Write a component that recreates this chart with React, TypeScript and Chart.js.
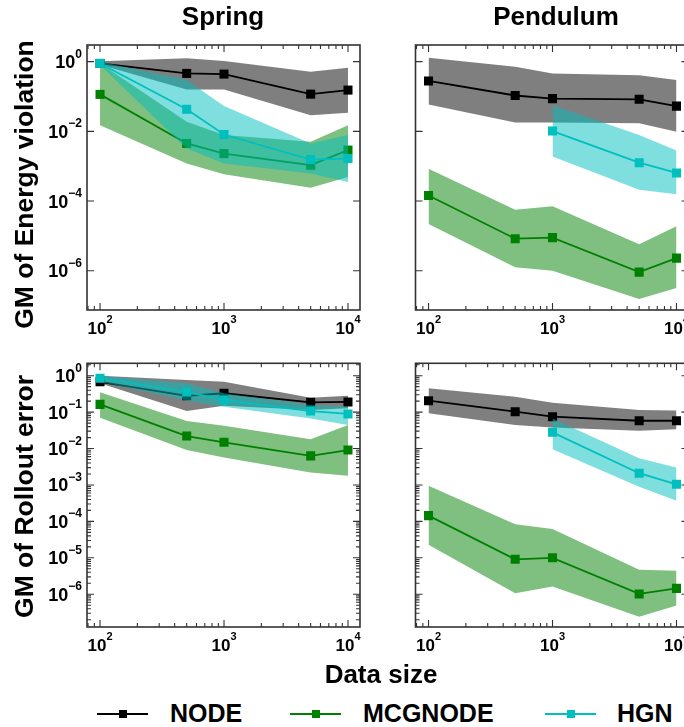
import React, { useEffect, useRef } from "react";
import { Chart, registerables } from "chart.js";

Chart.register(...registerables);

// ---------------- data ----------------
const DATA_SIZES = [100, 500, 1000, 5000, 10000];
const X_TICKS = [100, 1000, 10000];
const Y_TICKS_ENERGY = [1, 1e-2, 1e-4, 1e-6];
const Y_TICKS_ROLLOUT = [1, 1e-1, 1e-2, 1e-3, 1e-4, 1e-5, 1e-6];
const SERIES_NAMES = ["NODE", "MCGNODE", "HGN"];
const COLUMN_TITLES = ["Spring", "Pendulum"];
const ROW_TITLES = ["GM of Energy violation", "GM of Rollout error"];
const X_TITLE = "Data size";

// Spring – energy violation
const SPRING_ENERGY_NODE = [0.89, 0.46, 0.44, 0.117, 0.153];
const SPRING_ENERGY_NODE_LO = [0.82, 0.16, 0.16, 0.029, 0.034];
const SPRING_ENERGY_NODE_HI = [1.02, 1.25, 1.05, 0.51, 0.67];
const SPRING_ENERGY_MCG = [0.115, 0.0045, 0.0023, 0.00107, 0.0029];
const SPRING_ENERGY_MCG_LO = [0.015, 0.0012, 0.00059, 0.00024, 0.00049];
const SPRING_ENERGY_MCG_HI = [0.9, 0.019, 0.0078, 0.005, 0.015];
const SPRING_ENERGY_HGN = [0.89, 0.043, 0.0081, 0.00155, 0.00166];
const SPRING_ENERGY_HGN_LO = [0.8, 0.0032, 0.0012, 0.00062, 0.00035];
const SPRING_ENERGY_HGN_HI = [1.0, 0.3, 0.053, 0.0045, 0.0079];

// Pendulum – energy violation
const PEND_ENERGY_NODE = [0.28, 0.107, 0.087, 0.083, 0.053];
const PEND_ENERGY_NODE_LO = [0.059, 0.018, 0.018, 0.017, 0.0097];
const PEND_ENERGY_NODE_HI = [1.3, 0.72, 0.46, 0.41, 0.3];
const PEND_ENERGY_MCG = [1.44e-4, 8.3e-6, 8.9e-6, 9.1e-7, 2.3e-6];
const PEND_ENERGY_MCG_LO = [2.2e-5, 1.26e-6, 1.0e-6, 1.55e-7, 3.2e-7];
const PEND_ENERGY_MCG_HI = [8.5e-4, 5.6e-5, 7.1e-5, 5.7e-6, 1.9e-5];
const PEND_ENERGY_HGN = [null, null, 0.0102, 0.00126, 0.00064];
const PEND_ENERGY_HGN_LO = [null, null, 0.0019, 0.00021, 0.000156];
const PEND_ENERGY_HGN_HI = [null, null, 0.056, 0.0078, 0.0028];

// Spring – rollout error
const SPRING_ROLL_NODE = [0.68, 0.28, 0.33, 0.185, 0.19];
const SPRING_ROLL_NODE_LO = [0.62, 0.107, 0.15, 0.114, 0.127];
const SPRING_ROLL_NODE_HI = [1.0, 0.76, 0.68, 0.25, 0.28];
const SPRING_ROLL_MCG = [0.163, 0.022, 0.0148, 0.0063, 0.0091];
const SPRING_ROLL_MCG_LO = [0.07, 0.0091, 0.0057, 0.0022, 0.0018];
const SPRING_ROLL_MCG_HI = [0.35, 0.057, 0.042, 0.018, 0.044];
const SPRING_ROLL_HGN = [0.85, 0.36, 0.215, 0.107, 0.089];
const SPRING_ROLL_HGN_LO = [0.68, 0.21, 0.14, 0.067, 0.044];
const SPRING_ROLL_HGN_HI = [1.0, 0.62, 0.33, 0.157, 0.14];

// Pendulum – rollout error
const PEND_ROLL_NODE = [0.206, 0.103, 0.075, 0.058, 0.058];
const PEND_ROLL_NODE_LO = [0.093, 0.044, 0.038, 0.031, 0.034];
const PEND_ROLL_NODE_HI = [0.45, 0.265, 0.18, 0.114, 0.11];
const PEND_ROLL_MCG = [1.44e-4, 9.1e-6, 1.0e-5, 1.02e-6, 1.45e-6];
const PEND_ROLL_MCG_LO = [2.3e-5, 1.06e-6, 1.62e-6, 2.4e-7, 4.9e-7];
const PEND_ROLL_MCG_HI = [9.5e-4, 8.3e-5, 6.2e-5, 4.7e-6, 4.4e-6];
const PEND_ROLL_HGN = [null, null, 0.0279, 0.0021, 0.00104];
const PEND_ROLL_HGN_LO = [null, null, 0.0095, 0.00089, 0.00037];
const PEND_ROLL_HGN_HI = [null, null, 0.067, 0.0054, 0.003];

// ---------------- styling ----------------
const FONT = '"Liberation Sans", Arial, Helvetica, sans-serif';
const LINE_COLORS = ["#000000", "#008000", "#00bfbf"];
const BAND_COLORS = ["rgba(0,0,0,0.5)", "rgba(0,128,0,0.5)", "rgba(0,191,191,0.5)"];

type Arr = (number | null)[];
type Trio = { mean: Arr; lo: Arr; hi: Arr };

const pts = (arr: Arr) => DATA_SIZES.map((x, i) => ({ x, y: arr[i] }));

function buildDatasets(trios: Trio[]) {
  const ds: any[] = [];
  trios.forEach((t, k) => {
    const base = (trios.length - k) * 2; // later series drawn on top
    ds.push({
      label: SERIES_NAMES[k] + " upper",
      data: pts(t.hi),
      borderColor: "rgba(0,0,0,0)",
      borderWidth: 0,
      backgroundColor: BAND_COLORS[k],
      pointRadius: 0,
      fill: "+1",
      order: base,
    });
    ds.push({
      label: SERIES_NAMES[k] + " lower",
      data: pts(t.lo),
      borderColor: "rgba(0,0,0,0)",
      borderWidth: 0,
      pointRadius: 0,
      fill: false,
      order: base,
    });
    ds.push({
      label: SERIES_NAMES[k],
      data: pts(t.mean),
      borderColor: LINE_COLORS[k],
      backgroundColor: LINE_COLORS[k],
      borderWidth: 1.8,
      pointStyle: "rect",
      pointRadius: 6.4,
      pointBorderWidth: 0,
      pointBackgroundColor: LINE_COLORS[k],
      fill: false,
      order: base - 1,
    });
  });
  return ds;
}

function minorValues(min: number, max: number) {
  const out: number[] = [];
  for (let e = Math.floor(Math.log10(min)); e <= Math.ceil(Math.log10(max)); e++) {
    for (let m = 2; m <= 9; m++) {
      const v = m * Math.pow(10, e);
      if (v > min && v < max) out.push(v);
    }
  }
  return out;
}

const expText = (v: number) => {
  const e = Math.round(Math.log10(v));
  return e < 0 ? "\u2212" + String(-e) : String(e);
};

type PanelProps = {
  trios: Trio[];
  yTicks: number[];
  yMin: number;
  yMax: number;
  yMinor: boolean;
  yLabels: boolean;
  left: number;
  top: number;
  w: number;
  h: number;
  padTop: number;
  padRight: number;
  yW: number;
  xH: number;
};

const X_MIN = 78.5;
const X_MAX = 12500;

function Panel(p: PanelProps) {
  const ref = useRef<HTMLCanvasElement | null>(null);
  useEffect(() => {
    if (!ref.current) return;
    const framePlugin = {
      id: "frameTicks",
      afterDraw(chart: any) {
        const { ctx, chartArea: a } = chart;
        const xs = chart.scales.x;
        const ys = chart.scales.y;
        ctx.save();
        ctx.strokeStyle = "#333";
        ctx.lineWidth = 1.1;
        const majL = 7;
        const minL = 4;
        const vTick = (px: number, len: number) => {
          ctx.beginPath();
          ctx.moveTo(px, a.bottom);
          ctx.lineTo(px, a.bottom - len);
          ctx.moveTo(px, a.top);
          ctx.lineTo(px, a.top + len);
          ctx.stroke();
        };
        const hTick = (py: number, len: number) => {
          ctx.beginPath();
          ctx.moveTo(a.left, py);
          ctx.lineTo(a.left + len, py);
          ctx.moveTo(a.right, py);
          ctx.lineTo(a.right - len, py);
          ctx.stroke();
        };
        minorValues(X_MIN, X_MAX).forEach((v) => vTick(xs.getPixelForValue(v), minL));
        xs.ticks.forEach((t: any) => vTick(xs.getPixelForValue(t.value), majL));
        if (p.yMinor) {
          minorValues(p.yMin, p.yMax).forEach((v) => hTick(ys.getPixelForValue(v), minL));
        }
        ys.ticks.forEach((t: any) => hTick(ys.getPixelForValue(t.value), majL));
        // frame
        ctx.lineWidth = 1.6;
        ctx.strokeRect(a.left, a.top, a.right - a.left, a.bottom - a.top);
        // tick labels
        ctx.fillStyle = "#000";
        ctx.textBaseline = "alphabetic";
        ctx.textAlign = "left";
        xs.ticks.forEach((t: any) => {
          const px = xs.getPixelForValue(t.value);
          ctx.font = `bold 17px ${FONT}`;
          const w1 = ctx.measureText("10").width;
          ctx.font = `bold 11px ${FONT}`;
          const es = expText(t.value);
          const w2 = ctx.measureText(es).width;
          const sx = px - (w1 + w2) / 2;
          ctx.font = `bold 17px ${FONT}`;
          ctx.fillText("10", sx, a.bottom + 24);
          ctx.font = `bold 11px ${FONT}`;
          ctx.fillText(es, sx + w1, a.bottom + 13);
        });
        if (p.yLabels) {
          ys.ticks.forEach((t: any) => {
            const py = ys.getPixelForValue(t.value);
            ctx.font = `bold 18px ${FONT}`;
            const w1 = ctx.measureText("10").width;
            ctx.font = `bold 12px ${FONT}`;
            const es = expText(t.value);
            const w2 = ctx.measureText(es).width;
            const right = a.left - 5;
            ctx.font = `bold 18px ${FONT}`;
            ctx.fillText("10", right - w2 - w1, py + 6.5);
            ctx.font = `bold 12px ${FONT}`;
            ctx.fillText(es, right - w2, py - 4);
          });
        }
        ctx.restore();
      },
    };
    const chart = new Chart(ref.current, {
      type: "line",
      data: { datasets: buildDatasets(p.trios) },
      options: {
        animation: false,
        responsive: false,
        maintainAspectRatio: false,
        events: [],
        layout: { padding: { left: 0, top: p.padTop, right: p.padRight, bottom: 0 } },
        plugins: {
          legend: { display: false },
          tooltip: { enabled: false },
        },
        scales: {
          x: {
            type: "logarithmic",
            position: "bottom",
            min: X_MIN,
            max: X_MAX,
            grid: { display: false, drawTicks: false },
            border: { display: false },
            ticks: { display: false },
            afterBuildTicks: (s: any) => {
              s.ticks = X_TICKS.map((v) => ({ value: v }));
            },
            afterFit: (s: any) => {
              s.height = p.xH;
            },
          },
          y: {
            type: "logarithmic",
            position: "left",
            min: p.yMin,
            max: p.yMax,
            grid: { display: false, drawTicks: false },
            border: { display: false },
            ticks: { display: false },
            afterBuildTicks: (s: any) => {
              s.ticks = p.yTicks.map((v) => ({ value: v }));
            },
            afterFit: (s: any) => {
              s.width = p.yW;
            },
          },
        },
      } as any,
      plugins: [framePlugin],
    });
    return () => chart.destroy();
  }, []);
  return (
    <canvas
      ref={ref}
      width={p.w}
      height={p.h}
      style={{ position: "absolute", left: p.left, top: p.top, width: p.w, height: p.h }}
    />
  );
}

const ENERGY_MIN = 7.45e-8;
const ENERGY_MAX = 3.01;
const ROLL_MIN = 1.26e-7;
const ROLL_MAX = 2.19;

const textBase: React.CSSProperties = {
  position: "absolute",
  fontFamily: FONT,
  fontWeight: "bold",
  color: "#000",
  whiteSpace: "nowrap",
  textAlign: "center",
};

function LegendItem({ idx, lineLeft, textLeft }: { idx: number; lineLeft: number; textLeft: number }) {
  const c = LINE_COLORS[idx];
  return (
    <>
      <div style={{ position: "absolute", left: lineLeft, top: 713, width: 51, height: 2, background: c }} />
      <div style={{ position: "absolute", left: lineLeft + 21.5, top: 710, width: 8, height: 8, background: c }} />
      <div style={{ ...textBase, textAlign: "left", left: textLeft, top: 701, fontSize: 25, lineHeight: "25px" }}>
        {SERIES_NAMES[idx]}
      </div>
    </>
  );
}

export default function App() {
  const springEnergy: Trio[] = [
    { mean: SPRING_ENERGY_NODE, lo: SPRING_ENERGY_NODE_LO, hi: SPRING_ENERGY_NODE_HI },
    { mean: SPRING_ENERGY_MCG, lo: SPRING_ENERGY_MCG_LO, hi: SPRING_ENERGY_MCG_HI },
    { mean: SPRING_ENERGY_HGN, lo: SPRING_ENERGY_HGN_LO, hi: SPRING_ENERGY_HGN_HI },
  ];
  const pendEnergy: Trio[] = [
    { mean: PEND_ENERGY_NODE, lo: PEND_ENERGY_NODE_LO, hi: PEND_ENERGY_NODE_HI },
    { mean: PEND_ENERGY_MCG, lo: PEND_ENERGY_MCG_LO, hi: PEND_ENERGY_MCG_HI },
    { mean: PEND_ENERGY_HGN, lo: PEND_ENERGY_HGN_LO, hi: PEND_ENERGY_HGN_HI },
  ];
  const springRoll: Trio[] = [
    { mean: SPRING_ROLL_NODE, lo: SPRING_ROLL_NODE_LO, hi: SPRING_ROLL_NODE_HI },
    { mean: SPRING_ROLL_MCG, lo: SPRING_ROLL_MCG_LO, hi: SPRING_ROLL_MCG_HI },
    { mean: SPRING_ROLL_HGN, lo: SPRING_ROLL_HGN_LO, hi: SPRING_ROLL_HGN_HI },
  ];
  const pendRoll: Trio[] = [
    { mean: PEND_ROLL_NODE, lo: PEND_ROLL_NODE_LO, hi: PEND_ROLL_NODE_HI },
    { mean: PEND_ROLL_MCG, lo: PEND_ROLL_MCG_LO, hi: PEND_ROLL_MCG_HI },
    { mean: PEND_ROLL_HGN, lo: PEND_ROLL_HGN_LO, hi: PEND_ROLL_HGN_HI },
  ];

  const topRow = { top: 30, h: 320, padTop: 15, xH: 40, yMin: ENERGY_MIN, yMax: ENERGY_MAX, yTicks: Y_TICKS_ENERGY, yMinor: false };
  const botRow = { top: 350, h: 320, padTop: 13.3, xH: 43, yMin: ROLL_MIN, yMax: ROLL_MAX, yTicks: Y_TICKS_ROLLOUT, yMinor: true };
  const leftCol = { left: 0, w: 372, padRight: 12, yW: 87, yLabels: true };
  const rightCol = { left: 380, w: 320, padRight: 11.5, yW: 35.5, yLabels: false };

  return (
    <div
      style={{
        position: "absolute",
        left: 0,
        top: 0,
        width: 684,
        height: 727,
        overflow: "hidden",
        background: "#fff",
      }}
    >
      <Panel trios={springEnergy} {...topRow} {...leftCol} />
      <Panel trios={pendEnergy} {...topRow} {...rightCol} />
      <Panel trios={springRoll} {...botRow} {...leftCol} />
      <Panel trios={pendRoll} {...botRow} {...rightCol} />

      <div style={{ ...textBase, left: 123, top: 3, width: 200, fontSize: 26, lineHeight: "26px" }}>{COLUMN_TITLES[0]}</div>
      <div style={{ ...textBase, left: 456, top: 3, width: 200, fontSize: 26, lineHeight: "26px" }}>{COLUMN_TITLES[1]}</div>

      <div
        style={{
          ...textBase,
          left: 24 - 160,
          top: 184 - 13.5,
          width: 320,
          height: 27,
          fontSize: 26.5,
          lineHeight: "27px",
          transform: "rotate(-90deg)",
        }}
      >
        {ROW_TITLES[0]}
      </div>
      <div
        style={{
          ...textBase,
          left: 24 - 160,
          top: 496 - 13.5,
          width: 320,
          height: 27,
          fontSize: 26.5,
          lineHeight: "27px",
          transform: "rotate(-90deg)",
        }}
      >
        {ROW_TITLES[1]}
      </div>

      <div style={{ ...textBase, left: 281, top: 661, width: 200, fontSize: 26, lineHeight: "26px" }}>{X_TITLE}</div>

      <LegendItem idx={0} lineLeft={97} textLeft={170} />
      <LegendItem idx={1} lineLeft={290} textLeft={363} />
      <LegendItem idx={2} lineLeft={545} textLeft={617} />
    </div>
  );
}
